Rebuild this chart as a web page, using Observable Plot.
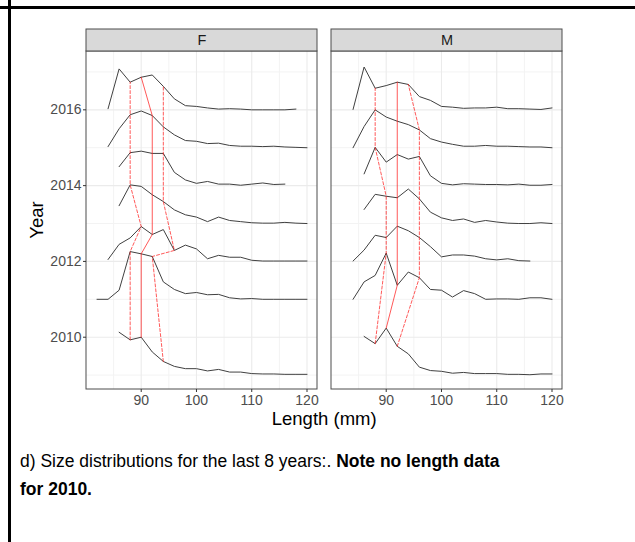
<!DOCTYPE html>
<html>
<head>
<meta charset="utf-8">
<script src="https://cdn.jsdelivr.net/npm/d3@7"></script>
<script src="https://cdn.jsdelivr.net/npm/@observablehq/plot@0.6"></script>
<style>
  html, body { margin: 0; padding: 0; background: #fff; }
  #page { position: relative; width: 635px; height: 542px; overflow: hidden;
          font-family: "Liberation Sans", Arial, sans-serif; }
  #chart { position: absolute; left: 0; top: 0; }
  .rule-h { position: absolute; left: 0; top: 6px; width: 635px; height: 2.5px; background: #000; }
  .rule-v { position: absolute; left: 8px; top: 0; width: 2.5px; height: 542px; background: #000; }
  #caption { position: absolute; left: 20px; top: 446.5px; font-size: 17.5px; line-height: 28.5px;
             color: #000; white-space: nowrap; }
</style>
</head>
<body>
<div id="page">
  <div id="chart"></div>
  <div class="rule-h"></div>
  <div class="rule-v"></div>
  <div id="caption">d) Size distributions for the last 8 years:. <b>Note no length data</b><br><b>for 2010.</b></div>
</div>
<script>
// Length classes (mm), 2 mm bins
const lengths = [82, 84, 86, 88, 90, 92, 94, 96, 98, 100, 102, 104, 106, 108, 110, 112, 114, 116, 118, 120];
// Survey years with length data (none for 2010)
const years = [2009, 2011, 2012, 2013, 2014, 2015, 2016];
const sexes = ["F", "M"];

// Relative frequency by length class (null = no fish in that class)
const f2009 = [null, null, 1.13, 0.93, 1.00, 0.61, 0.36, 0.23, 0.17, 0.17, 0.11, 0.15, 0.08, 0.08, 0.04, 0.03, 0.03, 0.02, 0.02, 0.02];
const f2011 = [0, 0, 0.24, 1.26, 1.20, 1.13, 0.46, 0.26, 0.15, 0.18, 0.12, 0.13, 0.04, 0.01, 0.02, 0, 0, 0, 0, 0];
const f2012 = [null, 0.05, 0.45, 0.62, 0.92, 0.71, 0.84, 0.29, 0.43, 0.33, 0.07, 0.16, 0.11, 0.11, 0.03, 0.01, 0.01, 0.01, 0.01, 0.01];
const f2013 = [null, null, 0.47, 1.02, 0.98, 0.76, 0.58, 0.36, 0.23, 0.17, 0.05, 0.17, 0.08, 0.05, 0.02, 0.01, 0.01, 0.03, 0.01, 0];
const f2014 = [null, null, 0.50, 0.87, 0.91, 0.85, 0.85, 0.35, 0.15, 0.06, 0.11, 0.04, 0.04, 0.01, 0.04, 0.07, 0.03, 0.04, null, null];
const f2015 = [null, 0.03, 0.50, 0.87, 0.97, 0.85, 0.55, 0.34, 0.19, 0.17, 0.11, 0.12, 0.06, 0.04, 0.04, 0.03, 0.04, 0.02, 0.01, 0];
const f2016 = [null, 0.03, 1.08, 0.73, 0.86, 0.92, 0.62, 0.29, 0.11, 0.09, 0.05, 0.02, 0.03, 0.02, 0, 0, 0, 0, 0.02, null];

const m2009 = [null, null, 1.02, 0.83, 1.24, 0.76, 0.56, 0.21, 0.12, 0.10, 0.05, 0.07, 0.04, 0.04, 0.04, 0.02, 0.02, 0.01, 0.03, 0.03];
const m2011 = [null, 0, 0.46, 0.63, 1.22, 0.37, 0.72, 0.57, 0.26, 0.24, 0.06, 0.23, 0.15, 0, 0.01, 0.01, 0, 0.04, 0.04, 0];
const m2012 = [null, 0.01, 0.30, 0.69, 0.63, 0.93, 0.81, 0.63, 0.39, 0.12, 0.17, 0.17, 0.14, 0.07, 0.04, 0.07, 0.02, 0.01, null, null];
const m2013 = [null, null, 0.37, 0.77, 0.72, 0.68, 0.91, 0.65, 0.30, 0.15, 0.08, 0.12, 0.03, 0.08, 0.04, 0.01, 0, 0, 0.02, 0];
const m2014 = [null, null, 0.31, 1.01, 0.62, 0.82, 0.70, 0.77, 0.26, 0.06, 0.02, 0.05, 0.04, 0.03, 0.03, 0.02, 0.04, 0.01, 0.01, 0.03];
const m2015 = [null, 0, 0.56, 1.00, 0.81, 0.70, 0.61, 0.47, 0.24, 0.15, 0.09, 0.04, 0.04, 0.06, 0.04, 0.04, 0.03, 0.02, 0.02, 0];
const m2016 = [null, 0.01, 1.13, 0.57, 0.64, 0.73, 0.67, 0.35, 0.25, 0.09, 0.07, 0.04, 0.05, 0.05, 0.07, 0.03, 0.03, 0.02, 0.01, 0.05];

// Quartile length classes per year (same order as `years`)
const fQ25 = [88, 88, 90, 88, 88, 88, 88];
const fQ50 = [90, 90, 92, 92, 92, 92, 90];
const fQ75 = [94, 92, 96, 94, 94, 94, 94];
const mQ25 = [88, 90, 90, 90, 88, 88, 88];
const mQ50 = [90, 92, 92, 92, 92, 92, 92];
const mQ75 = [92, 96, 96, 96, 96, 96, 94];

// Axis ticks and grid
const majorX = [90, 100, 110, 120];
const minorX = [85, 95, 105, 115];
const majorY = [2010, 2012, 2014, 2016];
const minorY = [2009, 2011, 2013, 2015, 2017];

// ---- derived tables ----
const ridgeScale = 1;              // ridge height in years per unit of frequency
const xDomain = [80.1, 121.9];
const yPanel = [2008.62, 2017.54];
const yStripTop = 2018.12;

const freqBySex = {F: [f2009, f2011, f2012, f2013, f2014, f2015, f2016],
                   M: [m2009, m2011, m2012, m2013, m2014, m2015, m2016]};
const quartBySex = {F: {q25: fQ25, q50: fQ50, q75: fQ75},
                    M: {q25: mQ25, q50: mQ50, q75: mQ75}};

const ridges = [];
for (const sex of sexes) {
  freqBySex[sex].forEach((row, yi) => {
    row.forEach((v, li) => {
      if (v != null) ridges.push({sex, year: years[yi], length: lengths[li], top: years[yi] + v * ridgeScale});
    });
  });
}

const quartiles = [];
for (const sex of sexes) {
  for (const q of ["q25", "q50", "q75"]) {
    quartBySex[sex][q].forEach((len, yi) => {
      const v = freqBySex[sex][yi][lengths.indexOf(len)];
      quartiles.push({sex, q, year: years[yi], length: len, top: years[yi] + v * ridgeScale});
    });
  }
}
const medians = quartiles.filter(d => d.q === "q50");
const outer = quartiles.filter(d => d.q !== "q50");

const panels = sexes.map(sex => ({sex}));

const chart = Plot.plot({
  width: 635,
  height: 435,
  marginLeft: 85.7,
  marginRight: 72.3,
  marginTop: 29,
  marginBottom: 46,
  style: {fontFamily: "'Liberation Sans', Arial, sans-serif", fontSize: "14px", background: "transparent"},
  x: {domain: xDomain},
  y: {domain: [yPanel[0], yStripTop]},
  fx: {domain: sexes, paddingInner: 0.057, paddingOuter: 0, axis: null},
  marks: [
    // panel grid
    Plot.ruleX(minorX, {y1: () => yPanel[0], y2: () => yPanel[1], stroke: "#f3f3f3", strokeWidth: 1}),
    Plot.ruleY(minorY, {x1: () => xDomain[0], x2: () => xDomain[1], stroke: "#f3f3f3", strokeWidth: 1}),
    Plot.ruleX(majorX, {y1: () => yPanel[0], y2: () => yPanel[1], stroke: "#ebebeb", strokeWidth: 1.1}),
    Plot.ruleY(majorY, {x1: () => xDomain[0], x2: () => xDomain[1], stroke: "#ebebeb", strokeWidth: 1.1}),
    // size distributions, one ridge per year
    Plot.line(ridges, {fx: "sex", x: "length", y: "top", z: "year", stroke: "#404040", strokeWidth: 1}),
    // quartile tracks across years
    Plot.line(outer, {fx: "sex", x: "length", y: "top", z: "q", stroke: "#ff0000", strokeOpacity: 0.65,
                      strokeWidth: 1, strokeDasharray: "3,2"}),
    Plot.line(medians, {fx: "sex", x: "length", y: "top", stroke: "#ff0000", strokeOpacity: 0.65, strokeWidth: 1}),
    // panel border and facet strips
    Plot.rect(panels, {fx: "sex", x1: () => xDomain[0], x2: () => xDomain[1], y1: () => yPanel[0], y2: () => yPanel[1],
                       fill: "none", stroke: "#4d4d4d", strokeWidth: 1}),
    Plot.rect(panels, {fx: "sex", x1: () => xDomain[0], x2: () => xDomain[1], y1: () => yPanel[1], y2: () => yStripTop,
                       fill: "#d9d9d9", stroke: "#4d4d4d", strokeWidth: 1}),
    Plot.text(panels, {fx: "sex", x: () => (xDomain[0] + xDomain[1]) / 2, y: () => (yPanel[1] + yStripTop) / 2,
                       text: "sex", fill: "#1a1a1a", fontSize: 14.5}),
    // axes
    Plot.axisX({ticks: majorX, tickSize: 3, tickPadding: 3, label: null, stroke: "#333", fill: "#4d4d4d"}),
    Plot.axisY({ticks: majorY, tickSize: 3, tickPadding: 2, label: null, tickFormat: "d", stroke: "#333", fill: "#4d4d4d"})
  ]
});

const svg = d3.select(chart);
svg.append("text")
  .attr("transform", "translate(42.5,220) rotate(-90)")
  .attr("text-anchor", "middle")
  .attr("font-size", 18.5)
  .attr("fill", "#000")
  .text("Year");
svg.append("text")
  .attr("x", 324.2)
  .attr("y", 424.5)
  .attr("text-anchor", "middle")
  .attr("font-size", 18.5)
  .attr("fill", "#000")
  .text("Length (mm)");

document.getElementById("chart").appendChild(chart);
</script>
</body>
</html>
